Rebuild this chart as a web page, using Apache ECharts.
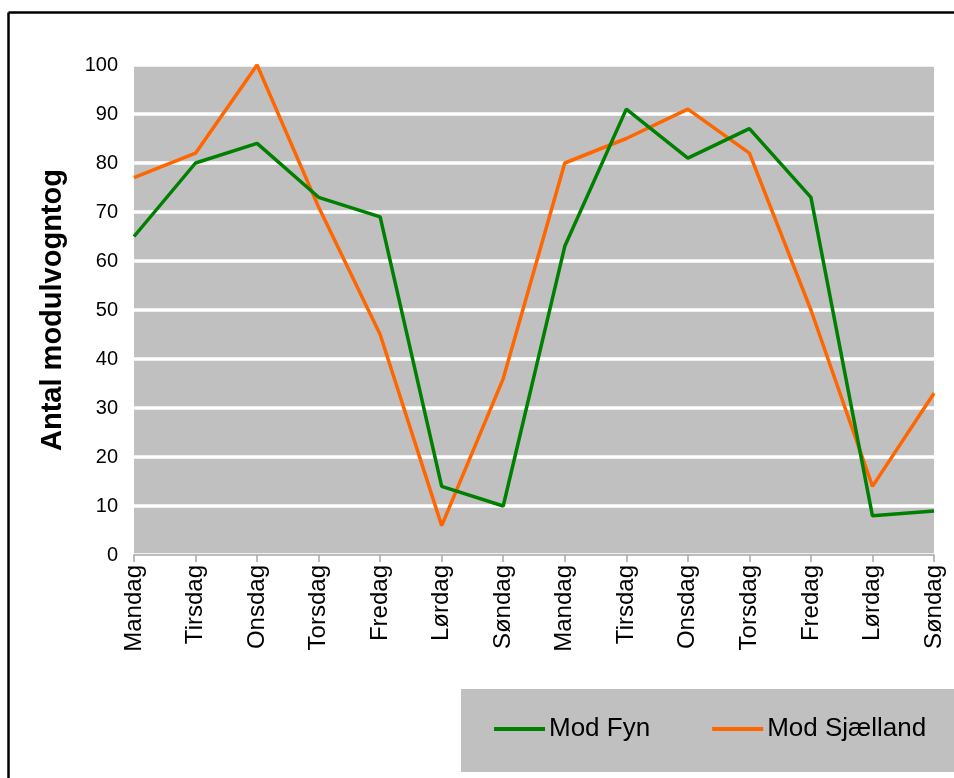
<!DOCTYPE html>
<html>
<head>
<meta charset="utf-8">
<script src="https://cdn.jsdelivr.net/npm/echarts@6/dist/echarts.min.js"></script>
<style>
html,body{margin:0;padding:0;background:#fff;}
#chart{width:954px;height:778px;}
</style>
</head>
<body>
<div id="chart"></div>
<script>
const categories = ['Mandag','Tirsdag','Onsdag','Torsdag','Fredag','Lørdag','Søndag','Mandag','Tirsdag','Onsdag','Torsdag','Fredag','Lørdag','Søndag'];
const modFyn = [65, 80, 84, 73, 69, 14, 10, 63, 91, 81, 87, 73, 8, 9];
const modSjaelland = [77, 82, 100, 71, 45, 6, 36, 80, 85, 91, 82, 50, 14, 33];
const yTicks = { min: 0, max: 100, interval: 10 };
const seriesNames = ['Mod Fyn', 'Mod Sjælland'];
const yAxisTitle = 'Antal modulvogntog';

const FONT = '"Liberation Sans", Arial, sans-serif';
const chart = echarts.init(document.getElementById('chart'), null, {renderer: 'canvas'});
chart.setOption({
  animation: false,
  backgroundColor: '#ffffff',
  grid: {
    left: 134, right: 20, top: 65, bottom: 223,
    show: true, backgroundColor: '#C0C0C0', borderWidth: 0
  },
  graphic: [
    { type: 'rect', shape: { x: 461, y: 689, width: 500, height: 83 }, style: { fill: '#C0C0C0' }, z: -1 },
    { type: 'line', shape: { x1: 8.5, y1: 12.5, x2: 960, y2: 12.5 }, style: { stroke: '#000', lineWidth: 2.5 } },
    { type: 'line', shape: { x1: 8.5, y1: 12.5, x2: 8.5, y2: 790 }, style: { stroke: '#000', lineWidth: 2.5 } }
  ],
  legend: {
    left: 494, top: 714, padding: 0,
    icon: 'rect', itemWidth: 51, itemHeight: 4, itemGap: 62,
    textStyle: { fontFamily: FONT, fontSize: 26, color: '#000', lineHeight: 30, padding: [0,0,0,-1] },
    data: seriesNames
  },
  xAxis: {
    type: 'category',
    data: categories,
    boundaryGap: false,
    axisLine: { show: true, lineStyle: { color: '#A6A6A6', width: 1.5 } },
    axisTick: { show: true, length: 7, lineStyle: { color: '#A6A6A6', width: 1.5 } },
    axisLabel: { rotate: 90, margin: 10, fontFamily: FONT, fontSize: 24, color: '#000', interval: 0 },
    splitLine: { show: false }
  },
  yAxis: {
    type: 'value',
    min: yTicks.min, max: yTicks.max, interval: yTicks.interval,
    name: yAxisTitle,
    nameLocation: 'middle',
    nameGap: 67,
    nameRotate: 90,
    nameTextStyle: { fontFamily: FONT, fontSize: 29, fontWeight: 'bold', color: '#000' },
    axisLine: { show: false },
    axisTick: { show: false },
    axisLabel: { margin: 16, fontFamily: FONT, fontSize: 20, color: '#000' },
    splitLine: { show: true, lineStyle: { color: '#FFFFFF', width: 3.5 } }
  },
  series: [
    { name: seriesNames[0], type: 'line', data: modFyn, showSymbol: false, symbol: 'none',
      lineStyle: { color: '#008000', width: 3.5 }, itemStyle: { color: '#008000' }, z: 3 },
    { name: seriesNames[1], type: 'line', data: modSjaelland, showSymbol: false, symbol: 'none',
      lineStyle: { color: '#FF6600', width: 3.5 }, itemStyle: { color: '#FF6600' }, z: 2 }
  ]
});
</script>
</body>
</html>
